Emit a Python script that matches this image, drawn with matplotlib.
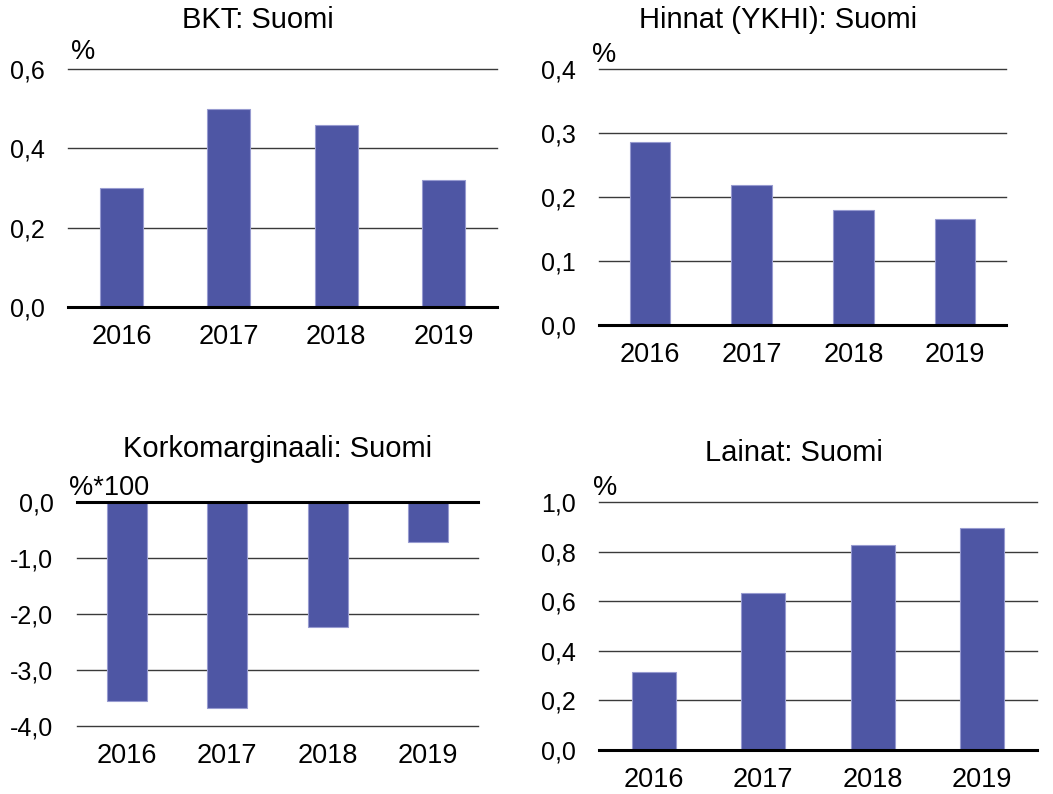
import matplotlib
matplotlib.use("Agg")
import matplotlib.pyplot as plt

plt.rcParams['font.family'] = ['Liberation Sans', 'DejaVu Sans']

years = ['2016', '2017', '2018', '2019']

bkt = [0.30, 0.50, 0.46, 0.32]
hinnat = [0.286, 0.219, 0.18, 0.166]
korko = [-3.56, -3.67, -2.23, -0.71]
lainat = [0.313, 0.634, 0.828, 0.894]

bkt_ticks = [0.0, 0.2, 0.4, 0.6]
hinnat_ticks = [0.0, 0.1, 0.2, 0.3, 0.4]
korko_ticks = [-4.0, -3.0, -2.0, -1.0, 0.0]
lainat_ticks = [0.0, 0.2, 0.4, 0.6, 0.8, 1.0]

W, H = 1053, 794
BAR = '#4E56A4'
EDGE = '#979BD0'

fig = plt.figure(figsize=(W / 100, H / 100), dpi=100)


def px_axes(left, right, top, bottom):
    return fig.add_axes([left / W, 1 - bottom / H, (right - left) / W, (bottom - top) / H])


def panel(ax, vals, ticks, title, tpos, unit, upos):
    x = range(len(years))
    ax.bar(x, vals, width=0.4, color=BAR, edgecolor=EDGE, linewidth=0.8, zorder=2)
    ax.set_xlim(-0.5, len(years) - 0.5)
    ax.set_ylim(min(ticks), max(ticks))
    ax.set_yticks(ticks)
    ax.set_yticklabels([f'{t:.1f}'.replace('.', ',') for t in ticks])
    ax.set_xticks(list(x))
    ax.set_xticklabels(years)
    ax.tick_params(axis='y', length=0, pad=17, labelsize=18)
    ax.tick_params(axis='x', length=0, pad=12, labelsize=19.5)
    for s in ax.spines.values():
        s.set_visible(False)
    for t in ticks:
        if t != 0:
            ax.axhline(t, color='#3a3a3a', lw=1.0, zorder=1, clip_on=False)
    ax.axhline(0, color='black', lw=2.2, zorder=3, clip_on=False)
    fig.text(tpos[0] / W, 1 - tpos[1] / H, title, ha='center', va='center', fontsize=21)
    fig.text(upos[0] / W, 1 - upos[1] / H, unit, ha='left', va='center', fontsize=19.5)


ax1 = px_axes(68, 497, 69, 307)
panel(ax1, bkt, bkt_ticks, 'BKT: Suomi', (258, 20), '%', (71, 52))

ax2 = px_axes(599, 1006, 69, 325)
panel(ax2, hinnat, hinnat_ticks, 'Hinnat (YKHI): Suomi', (778, 20), '%', (592, 55))

ax3 = px_axes(77, 478, 502, 726)
panel(ax3, korko, korko_ticks, 'Korkomarginaali: Suomi', (278, 449), '%*100', (69, 488))

ax4 = px_axes(599, 1037, 502, 750)
panel(ax4, lainat, lainat_ticks, 'Lainat: Suomi', (794, 453), '%', (593, 488))

fig.savefig('out.png', dpi=100)
